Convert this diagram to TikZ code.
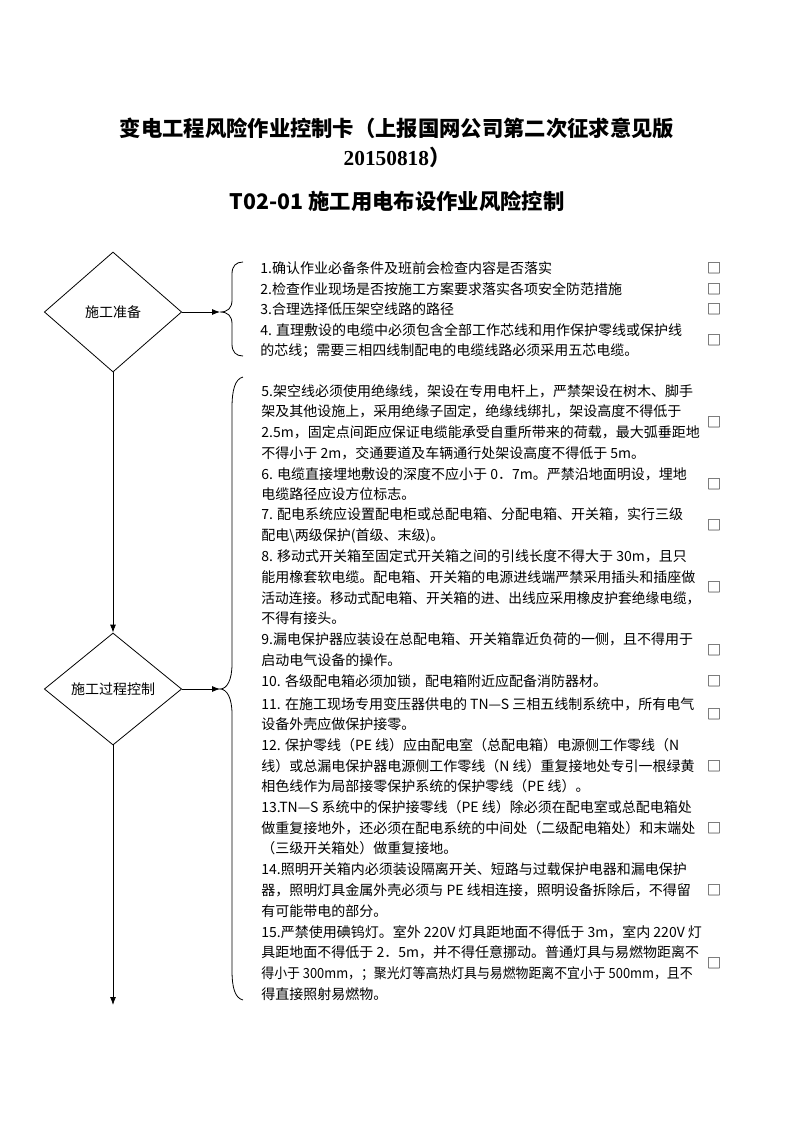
\documentclass[tikz,border=0pt]{standalone}
\usepackage{fontspec}
\usepackage{graphicx}
\newfontfamily\cjk{Noto Sans CJK SC}
\newfontfamily\tnr{Liberation Serif}
\usetikzlibrary{shapes.geometric,arrows.meta}

\begin{document}
\begin{tikzpicture}[x=0.75pt, y=-0.75pt, line width=0.6pt, >={Latex[length=6pt,width=4.5pt]},
                    main node/.style={diamond,draw,inner sep=0pt,minimum width=103pt,font=\cjk\fontsize{10.5}{12}\selectfont},
                    item/.style={anchor=west,align=left,inner sep=0pt,font=\cjk\fontsize{10.5}{15.5}\selectfont},
                    box/.style={inner sep=0pt,font=\cjk\fontsize{10.5}{12}\selectfont},
                    title/.style={font=\cjk\bfseries\fontsize{16}{20}\selectfont}]

  \useasboundingbox (0,0) rectangle (793,1122);

  \node[title] (t1) at (397,128) {变电工程风险作业控制卡（上报国网公司第二次征求意见版};
  \node[title, font=\tnr\bfseries\fontsize{16}{20}\selectfont] (t2) at (397,157) {20150818{\cjk）}};
  \node[title] (t3) at (397,201) {T02-01 施工用电布设作业风险控制};

  \node[main node, minimum height=90pt] (d1) at (113,312) {施工准备};
  \node[main node, minimum height=84pt] (d2) at (113,689) {施工过程控制};

  \coordinate (c1) at (220,312);
  \coordinate (c2) at (220,689);
  \coordinate (end) at (113,1005);

  \draw (243,262) .. controls (236,262) and (232,266) .. (232,274) -- (232,300)
        .. controls (232,308) and (228,312) .. (c1) .. controls (228,312) and (232,316) .. (232,324)
        -- (232,344) .. controls (232,352) and (236,356) .. (243,356);
  \draw (243,377) .. controls (235,379) and (232,390) .. (232,408) -- (232,664)
        .. controls (232,680) and (227,689) .. (c2) .. controls (227,689) and (232,698) .. (232,714)
        -- (232,970) .. controls (232,988) and (235,998) .. (243,1000);

  \path[->]
    (d1) edge (c1)
    (d2) edge (c2)
    (d1) edge (d2)
    (d2) edge (end);

  \node[item] (i1) at (260,268) {1.确认作业必备条件及班前会检查内容是否落实};
  \node[item] (i2) at (260,288.7) {2.检查作业现场是否按施工方案要求落实各项安全防范措施};
  \node[item] (i3) at (260,309.4) {3.合理选择低压架空线路的路径};
  \node[item] (i4) at (260,340.5) {4. 直理敷设的电缆中必须包含全部工作芯线和用作保护零线或保护线\\的芯线；需要三相四线制配电的电缆线路必须采用五芯电缆。};
  \node[item] (i5) at (261,422) {5.架空线必须使用绝缘线，架设在专用电杆上，严禁架设在树木、脚手\\架及其他设施上，采用绝缘子固定，绝缘线绑扎，架设高度不得低于\\2.5m，固定点间距应保证电缆能承受自重所带来的荷载，最大弧垂距地\\不得小于 2m，交通要道及车辆通行处架设高度不得低于 5m。};
  \node[item] (i6) at (261,484) {6. 电缆直接埋地敷设的深度不应小于 0．7m。严禁沿地面明设，埋地\\电缆路径应设方位标志。};
  \node[item] (i7) at (261,525.6) {7. 配电系统应设置配电柜或总配电箱、分配电箱、开关箱，实行三级\\配电\textbackslash 两级保护(首级、末级)。};
  \node[item] (i8) at (261,587.6) {8. 移动式开关箱至固定式开关箱之间的引线长度不得大于 30m，且只\\能用橡套软电缆。配电箱、开关箱的电源进线端严禁采用插头和插座做\\\scalebox{0.98}[1]{活动连接。移动式配电箱、开关箱的进、出线应采用橡皮护套绝缘电缆，}\\不得有接头。};
  \node[item] (i9) at (261,649.7) {9.漏电保护器应装设在总配电箱、开关箱靠近负荷的一侧，且不得用于\\启动电气设备的操作。};
  \node[item] (i10) at (261,681) {10. 各级配电箱必须加锁，配电箱附近应配备消防器材。};
  \node[item] (i11) at (261,714.3) {11. 在施工现场专用变压器供电的 TN—S 三相五线制系统中，所有电气\\设备外壳应做保护接零。};
  \node[item] (i12) at (261,766) {12. 保护零线（PE 线）应由配电室（总配电箱）电源侧工作零线（N\\线）或总漏电保护器电源侧工作零线（N 线）重复接地处专引一根绿黄\\相色线作为局部接零保护系统的保护零线（PE 线）。};
  \node[item] (i13) at (261,828) {13.TN—S 系统中的保护接零线（PE 线）除必须在配电室或总配电箱处\\做重复接地外，还必须在配电系统的中间处（二级配电箱处）和末端处\\（三级开关箱处）做重复接地。};
  \node[item] (i14) at (261,890) {14.照明开关箱内必须装设隔离开关、短路与过载保护电器和漏电保护\\器，照明灯具金属外壳必须与 PE 线相连接，照明设备拆除后，不得留\\有可能带电的部分。};
  \node[item] (i15) at (261,962.8) {15.严禁使用碘钨灯。室外 220V 灯具距地面不得低于 3m，室内 220V 灯\\具距地面不得低于 2．5m，并不得任意挪动。普通灯具与易燃物距离不\\\scalebox{0.92}[1]{得小于 300mm，；聚光灯等高热灯具与易燃物距离不宜小于 500mm，且不}\\得直接照射易燃物。};

  \node[box] (b1) at (714,268) {□};
  \node[box] (b2) at (714,288.7) {□};
  \node[box] (b3) at (714,309.4) {□};
  \node[box] (b4) at (714,340.5) {□};
  \node[box] (b5) at (714,422) {□};
  \node[box] (b6) at (714,484) {□};
  \node[box] (b7) at (714,525.6) {□};
  \node[box] (b8) at (714,587.6) {□};
  \node[box] (b9) at (714,649.7) {□};
  \node[box] (b10) at (714,681) {□};
  \node[box] (b11) at (714,714.3) {□};
  \node[box] (b12) at (714,766) {□};
  \node[box] (b13) at (714,828) {□};
  \node[box] (b14) at (714,890) {□};
  \node[box] (b15) at (714,962.8) {□};

\end{tikzpicture}
\end{document}
